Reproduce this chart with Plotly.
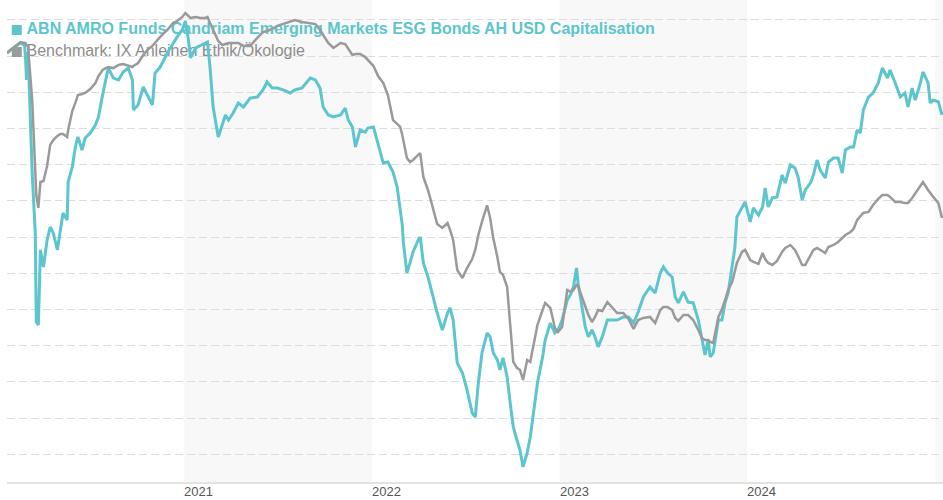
import plotly.graph_objects as go

dates = [
    "2020-01-22", "2020-02-03", "2020-02-17", "2020-02-25", "2020-02-27", "2020-02-29", "2020-03-03", "2020-03-11",
    "2020-03-17", "2020-03-19", "2020-03-23", "2020-03-27", "2020-04-02", "2020-04-09", "2020-04-15", "2020-04-21",
    "2020-04-29", "2020-05-05", "2020-05-10", "2020-05-18", "2020-05-20", "2020-05-28", "2020-06-03", "2020-06-08",
    "2020-06-16", "2020-06-22", "2020-07-02", "2020-07-12", "2020-07-18", "2020-07-26", "2020-08-01", "2020-08-06",
    "2020-08-16", "2020-08-26", "2020-09-04", "2020-09-14", "2020-09-22", "2020-09-24", "2020-10-03", "2020-10-13",
    "2020-10-23", "2020-10-31", "2020-11-05", "2020-11-15", "2020-11-29", "2020-12-10", "2020-12-18", "2020-12-28",
    "2021-01-03", "2021-01-09", "2021-01-13", "2021-01-23", "2021-02-01", "2021-02-11", "2021-02-15", "2021-02-20",
    "2021-02-26", "2021-03-08", "2021-03-16", "2021-03-22", "2021-03-28", "2021-04-06", "2021-04-16", "2021-04-26",
    "2021-05-09", "2021-05-23", "2021-06-03", "2021-06-11", "2021-06-21", "2021-07-01", "2021-07-12", "2021-07-26",
    "2021-08-04", "2021-08-18", "2021-09-03", "2021-09-13", "2021-09-22", "2021-09-28", "2021-10-08", "2021-10-18",
    "2021-11-01", "2021-11-10", "2021-11-16", "2021-11-24", "2021-11-30", "2021-12-09", "2021-12-19", "2021-12-24",
    "2022-01-04", "2022-01-13", "2022-01-23", "2022-02-01", "2022-02-11", "2022-02-19", "2022-02-25", "2022-03-01",
    "2022-03-03", "2022-03-10", "2022-03-16", "2022-03-22", "2022-04-01", "2022-04-05", "2022-04-11", "2022-04-20",
    "2022-04-28", "2022-05-08", "2022-05-18", "2022-05-28", "2022-06-02", "2022-06-08", "2022-06-16", "2022-06-26",
    "2022-07-05", "2022-07-15", "2022-07-21", "2022-07-27", "2022-08-03", "2022-08-13", "2022-08-19", "2022-08-25",
    "2022-09-02", "2022-09-07", "2022-09-13", "2022-09-21", "2022-09-27", "2022-10-03", "2022-10-10", "2022-10-16",
    "2022-10-22", "2022-10-30", "2022-11-05", "2022-11-11", "2022-11-19", "2022-11-29", "2022-12-04", "2022-12-14",
    "2022-12-23", "2022-12-29",
    "2023-01-06", "2023-01-16", "2023-01-22", "2023-01-28", "2023-02-03", "2023-02-06", "2023-02-14", "2023-02-20",
    "2023-02-26", "2023-03-05", "2023-03-11", "2023-03-17", "2023-03-25", "2023-04-04", "2023-04-13", "2023-04-23",
    "2023-05-05", "2023-05-15", "2023-05-25", "2023-06-03", "2023-06-13", "2023-06-26", "2023-07-06", "2023-07-16",
    "2023-07-22", "2023-07-30", "2023-08-08", "2023-08-14", "2023-08-20", "2023-08-30", "2023-09-08", "2023-09-18",
    "2023-09-28", "2023-10-05", "2023-10-11", "2023-10-17", "2023-10-21", "2023-10-27", "2023-11-06", "2023-11-13",
    "2023-11-19", "2023-11-25", "2023-12-03", "2023-12-08", "2023-12-12", "2023-12-22", "2023-12-28",
    "2024-01-07", "2024-01-13", "2024-01-23", "2024-01-31", "2024-02-05", "2024-02-11", "2024-02-19", "2024-02-28",
    "2024-03-09", "2024-03-15", "2024-03-25", "2024-04-03", "2024-04-09", "2024-04-17", "2024-04-23", "2024-05-03",
    "2024-05-09", "2024-05-16", "2024-05-22", "2024-06-01", "2024-06-07", "2024-06-17", "2024-06-26", "2024-07-04",
    "2024-07-10", "2024-07-20", "2024-07-26", "2024-08-02", "2024-08-08", "2024-08-14", "2024-08-24", "2024-09-02",
    "2024-09-12", "2024-09-20", "2024-09-30", "2024-10-05", "2024-10-15", "2024-10-25", "2024-11-03", "2024-11-09",
    "2024-11-17", "2024-11-23", "2024-12-03", "2024-12-08", "2024-12-18", "2024-12-22", "2024-12-28",
    "2025-01-07", "2025-01-14",
]

# cumulative performance in %
fund = [
    0.22, 0.57, 0.91, 0.77, -0.12, -1.64, 0.29, -8.07, -12.21, -18.36, -18.56, -13.38, -14.56, -12.69, -11.80, -12.21,
    -13.38, -12.00, -10.83, -11.31, -8.69, -7.65, -6.27, -5.58, -6.48, -5.65, -5.30, -4.75, -4.20, -2.68, -1.64, -0.82,
    -1.51, -1.64, -1.09, -0.82, -1.64, -3.72, -3.37, -2.13, -2.82, -3.37, -1.16, -0.75, 0.22, 0.91, 1.33, 1.81,
    2.43, 1.12, -0.12, 0.57, 0.71, 0.91, 0.98, -0.75, -3.51, -5.58, -4.61, -4.06, -4.41, -3.92, -3.23, -3.51,
    -2.89, -2.82, -2.33, -1.78, -2.20, -2.20, -2.33, -2.54, -2.33, -2.20, -1.51, -1.64, -2.20, -3.51, -4.06, -4.20,
    -4.06, -3.58, -4.41, -4.89, -6.27, -5.10, -5.24, -4.96,
    -4.89, -6.13, -7.38, -7.31, -8.00, -9.03, -10.41, -11.66, -12.83, -14.97, -14.28, -13.52, -12.69, -12.49, -14.28, -15.25,
    -16.35, -17.74, -18.91, -17.74, -17.39, -18.22, -21.19, -21.88, -23.05, -24.64, -24.92, -22.57, -20.50, -19.12, -19.39, -20.50,
    -20.98, -21.67, -20.84, -22.15, -23.95, -25.61, -26.51, -27.20, -28.37, -27.40, -26.30, -24.64, -22.57, -20.77, -19.60, -18.43,
    -19.12, -18.91,
    -18.22, -16.84, -16.49, -15.94, -14.63, -15.66, -17.32, -18.70, -19.39, -18.91, -19.39, -20.08, -19.39, -18.22, -18.22, -18.22,
    -18.01, -18.01, -18.43, -17.67, -16.63, -15.94, -16.35, -14.97, -14.56, -14.97, -15.25, -16.63, -17.04, -16.28, -16.98, -17.04,
    -18.22, -19.60, -20.64, -19.60, -20.77, -20.50, -18.22, -18.22, -17.04, -16.35, -14.63, -13.25, -11.11, -10.41, -10.07,
    -11.45, -10.48, -10.97, -10.41, -9.10, -10.41, -9.79, -9.72, -8.20, -8.76, -7.51, -7.72, -8.34, -9.93, -9.24, -8.76,
    -8.20, -7.17, -7.86, -8.41, -7.31, -7.03, -7.03, -8.07, -6.48, -6.27, -6.27, -5.10, -5.30, -3.72, -2.82, -2.54,
    -1.85, -0.82, -1.51, -0.95, -1.85, -2.82, -2.54, -3.51, -2.20, -3.03, -1.85, -1.09, -1.85, -3.23, -3.03,
    -3.16, -4.06,
]

benchmark = [
    0.22, 0.57, 0.98, 0.91, 0.91, 0.77, 0.64, -3.03, -7.65, -9.59, -10.48, -8.69, -8.62, -7.58, -6.13, -5.79,
    -5.51, -5.37, -5.37, -5.58, -5.10, -3.79, -3.23, -2.68, -2.61, -2.54, -2.27, -1.85, -1.37, -0.95, -0.82, -0.75,
    -0.82, -0.61, -0.54, -0.68, -0.75, -0.68, -0.47, 0.08, 0.50, 0.71, 0.91, 1.33, 1.81, 2.29, 2.43, 2.71,
    2.98, 2.78, 2.64, 2.71, 2.64, 2.64, 2.71, 2.29, 1.81, 1.05, 0.77, 0.84, 0.91, 0.91, 0.91, 0.71,
    0.71, 1.26, 1.67, 1.74, 1.88, 2.09, 2.22, 2.43, 2.50, 2.36, 2.29, 2.22, 1.81, 1.46, 0.91, 0.57,
    0.91, 0.84, 0.50, 0.08, 0.15, 0.15, -0.06, -0.26,
    -0.68, -1.37, -1.85, -2.68, -4.41, -4.68, -4.89, -5.44, -5.79, -7.03, -7.31, -7.17, -6.82, -6.69, -8.34, -9.24,
    -10.28, -11.59, -11.86, -11.52, -12.00, -12.69, -14.77, -15.32, -14.63, -14.01, -13.38, -12.35, -11.45, -10.30, -11.17, -12.56,
    -13.87, -14.90, -15.11, -15.94, -18.56, -21.12, -21.53, -21.67, -22.36, -20.98, -21.12, -19.94, -18.56, -17.53, -17.04, -17.39,
    -18.77, -19.05,
    -18.70, -16.15, -16.28, -16.15, -15.80, -15.87, -16.70, -17.32, -17.87, -18.36, -18.01, -17.53, -17.60, -16.98, -17.32, -17.74,
    -17.74, -18.15, -18.84, -18.22, -18.08, -18.01, -18.43, -17.53, -17.32, -17.32, -17.53, -18.08, -18.29, -17.87, -17.87, -18.22,
    -18.91, -19.46, -19.60, -19.60, -19.74, -19.81, -18.01, -17.46, -16.84, -16.15, -15.59, -14.83, -14.28, -13.52, -13.38,
    -14.08, -14.21, -14.35, -13.59, -14.01, -14.28, -14.42, -14.14, -13.52, -13.25, -13.04, -13.38, -13.80, -14.42, -14.42, -13.73,
    -13.38, -13.25, -13.38, -13.59, -13.18, -13.04, -12.83, -12.56, -12.35, -12.14, -11.93, -11.31, -11.04, -10.83, -10.76, -10.28,
    -9.86, -9.59, -9.59, -9.72, -10.07, -10.07, -10.14, -10.14, -9.79, -9.45, -8.90, -8.69, -9.24, -9.45, -9.72,
    -10.14, -11.17,
]

fund_name = "ABN AMRO Funds Candriam Emerging Markets ESG Bonds AH USD Capitalisation"
bench_name = "Benchmark: IX Anleihen Ethik/Ökologie"
year_ticks = ["2021-01-01", "2022-01-01", "2023-01-01", "2024-01-01"]
year_labels = ["2021", "2022", "2023", "2024"]
shaded_years = [("2021-01-01", "2022-01-01"), ("2023-01-01", "2024-01-01"), ("2025-01-01", "2025-02-01")]

CYAN = "#5cc5cd"
GREY = "#9a9a9a"
FONT = "Liberation Sans, Arial, sans-serif"

# legend rows (drawn as text underneath the lines, like the original)
legend_marker_x = "2020-02-10"
legend_text_x = "2020-02-29"
legend_y = [1.81, 0.29]

fig = go.Figure()

fig.add_trace(go.Scatter(
    x=[legend_marker_x, legend_marker_x], y=legend_y, mode="markers",
    marker=dict(symbol="square", size=10, color=[CYAN, GREY], line=dict(width=0)),
    hoverinfo="skip", showlegend=False, cliponaxis=False,
))
fig.add_trace(go.Scatter(
    x=[legend_text_x, legend_text_x], y=legend_y, mode="text",
    text=["<b>" + fund_name + "</b>", bench_name],
    textposition="middle right",
    textfont=dict(family=FONT, size=16, color=[CYAN, "#8c8c8c"]),
    hoverinfo="skip", showlegend=False, cliponaxis=False,
))

fig.add_trace(go.Scatter(
    x=dates, y=fund, mode="lines", name=fund_name,
    line=dict(color=CYAN, width=3), showlegend=False,
))
fig.add_trace(go.Scatter(
    x=dates, y=benchmark, mode="lines", name=bench_name,
    line=dict(color=GREY, width=2.5), showlegend=False,
))

for x0, x1 in shaded_years:
    fig.add_shape(type="rect", xref="x", yref="paper", x0=x0, x1=x1, y0=0, y1=1,
                  fillcolor="#f8f8f8", line=dict(width=0), layer="below")

# year labels, left-aligned at the start of each year
for tv, tt in zip(year_ticks, year_labels):
    fig.add_annotation(x=tv, y=0, xref="x", yref="paper", text=tt, showarrow=False,
                       xanchor="left", yanchor="middle", xshift=-1, yshift=-9, borderpad=0,
                       font=dict(family=FONT, size=13, color="#555555"))

fig.update_layout(
    width=943, height=500,
    margin=dict(l=7, r=0, t=0, b=18),
    paper_bgcolor="white", plot_bgcolor="white",
    showlegend=False, hovermode=False,
    font=dict(family=FONT),
)
fig.update_xaxes(
    range=["2020-01-22", "2025-01-16"],
    showticklabels=False, ticks="", showgrid=False, zeroline=False,
    showline=True, linecolor="#e3e3e3", linewidth=2, automargin=False,
)
fig.update_yaxes(
    range=[-29.41, 3.881], dtick=2.5, tick0=0,
    showticklabels=False, ticks="", zeroline=False,
    showgrid=True, gridcolor="#dddddd", gridwidth=1, griddash="8px,4px",
    showline=False, automargin=False,
)

fig.write_html(
    "out.html",
    config={"displayModeBar": False},
    post_script="document.body.style.margin='0';document.body.style.overflow='hidden';",
)
